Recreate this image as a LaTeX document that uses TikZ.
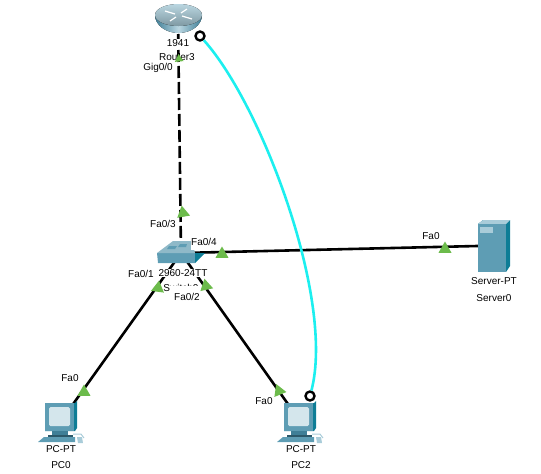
\documentclass[tikz,border=0pt]{standalone}
\usepackage{fontspec}
\setmainfont{Liberation Sans}
\usetikzlibrary{shapes.geometric}
\definecolor{linkgreen}{HTML}{6CBB4B}
\definecolor{cablecyan}{HTML}{1CEFEF}
\definecolor{facefront}{HTML}{5E9DB4}
\definecolor{faceside}{HTML}{0E7D96}
\definecolor{facetop}{HTML}{A9CCD9}
\definecolor{facedark}{HTML}{3F7F97}
\tikzset{
  devlabel/.style={font=\fontsize{10}{12}\selectfont,inner sep=0.5pt},
  portlabel/.style={devlabel,fill=white,minimum height=17pt},
  linkline/.style={line width=2.6pt,black},
  porttip/.style={regular polygon,regular polygon sides=3,fill=linkgreen,inner sep=0pt,minimum size=15pt},
  cabledot/.style={draw=black,circle,line width=2.4pt,fill=white,inner sep=0pt,minimum size=9pt},
}
\newcommand{\pcicon}[2]{
\begin{scope}[shift={(#1,#2)}]
\fill[faceside] (-16,-18)--(14,-18)--(16,-20)--(16,7)--(14,10)--(14,10)--(-16,10)--cycle;
\fill[facefront] (-16,-18)--(13,-18)--(13,10)--(-16,10)--cycle;
\fill[rounded corners=1.5pt,fill=facetop!50!white] (-12,-14)--(9,-14)--(9,5)--(-12,5)--cycle;
\fill[facedark] (-9,10)--(7,10)--(7,14)--(-9,14)--cycle;
\fill[facedark!70!black] (-13,14)--(12,14)--(12,16)--(-13,16)--cycle;
\fill[facefront] (-17,16)--(14,16)--(14,21)--(-23,21)--cycle;
\draw[facetop,line width=1pt] (12,13)--(20,13)--(23,17);
\fill[facetop] (16,16)--(21,16)--(22,22)--(17,22)--cycle;
\end{scope}
}
\newcommand{\portname}[4]{\node[portlabel] (#1) at (#2,#3) {#4};}
\newcommand{\porttri}[4]{\node[porttip,rotate=#4] (#1) at (#2,#3) {};}

\begin{document}
\begin{tikzpicture}[x=1pt,y=-1pt]
\useasboundingbox (0,0) rectangle (541,474);
\foreach \n/\x/\y in {router/178/18,switch/181/253,server/490/245.7,pczero/61/421,pctwo/300/421}{\coordinate (\n) at (\x,\y);}
% links
\draw[linkline,dash pattern=on 12pt off 4pt] (router)--(switch);
\draw[linkline] (switch)--(server) (switch)--(pczero) (switch)--(pctwo);
% router
\fill[left color=facedark,right color=facedark,middle color=facetop!80!white] (155,15) arc[start angle=180,end angle=0,x radius=23.5,y radius=18] -- (202,15)--cycle;
\fill[top color=facetop!80!white,bottom color=facetop!75!black] (178.5,15) ellipse (23.5 and 11);
\draw[white,line width=1.2pt] (165,11)--(175,14) (192,19)--(182,16) (170,21)--(176,17) (187,9)--(181,13);
% switch
\fill[facefront] (157,253)--(195,253)--(195,263)--(158,263)--cycle;
\fill[facetop!75!facedark] (157,253)--(173,241)--(192,241)--(195,253)--cycle;
\fill[facefront] (167,249)--(175,249)--(177,246)--(169,246)--cycle (178,247)--(186,247)--(187,244)--(180,244)--cycle;
\fill[faceside] (195,253)--(205,253)--(195,263)--cycle;
% server
\fill[faceside] (478,224)--(483,220)--(510,220)--(510,266)--(506,272)--cycle;
\fill[facetop] (478,224)--(483,220)--(510,220)--(506,224)--cycle;
\fill[facefront] (478,224)--(506,224)--(506,272)--(478,272)--cycle;
\fill[facetop] (480,227)--(493,227)--(493,233)--(480,233)--cycle;
\pcicon{61}{421}
\pcicon{300}{421}
% device labels
\node[devlabel,fill=white] (routermodel) at (178,43) {1941};
\node[devlabel] (routername) at (177,57) {Router3};
\node[devlabel] (switchname) at (181,287.5) {Switch0};
\node[devlabel,fill=white] (switchmodel) at (183,273) {2960-24TT};
\node[devlabel] (servermodel) at (494,281) {Server-PT};
\node[devlabel] (servername) at (494,298) {Server0};
\node[devlabel] (pczeromodel) at (61,449) {PC-PT};
\node[devlabel] (pczeroname) at (61,465) {PC0};
\node[devlabel] (pctwomodel) at (301,449) {PC-PT};
\node[devlabel] (pctwoname) at (301,465) {PC2};
% port labels
\portname{gig}{158}{68}{Gig0/0}
\portname{fathree}{163}{224}{Fa0/3}
\portname{fafour}{204}{241.5}{Fa0/4}
\portname{faone}{141}{274}{Fa0/1}
\node[portlabel,minimum height=23pt,inner xsep=4pt] (fatwo) at (187,297) {Fa0/2};
\portname{faserver}{431}{236}{Fa0}
\portname{fapczero}{70}{378}{Fa0}
\portname{fapctwo}{264}{401}{Fa0}
% port triangles
\node[porttip,minimum size=10pt,rotate=5] (tipgig) at (179,59) {};
\porttri{tipthree}{183}{213}{10}
\porttri{tipfour}{222}{254}{0}
\porttri{tipserver}{445}{249}{0}
\porttri{tipone}{158}{288}{-8}
\porttri{tiptwo}{206}{286}{12}
\porttri{tipzero}{84}{392}{0}
\porttri{tippc}{279}{391}{22}
% cable
\node[cabledot] (routerdot) at (200,36) {};
\node[cabledot] (pctwodot) at (310,396) {};
\draw[cablecyan,line width=2.6pt] (routerdot) .. controls (262,105) and (335,300) .. (pctwodot);
\end{tikzpicture}
\end{document}
